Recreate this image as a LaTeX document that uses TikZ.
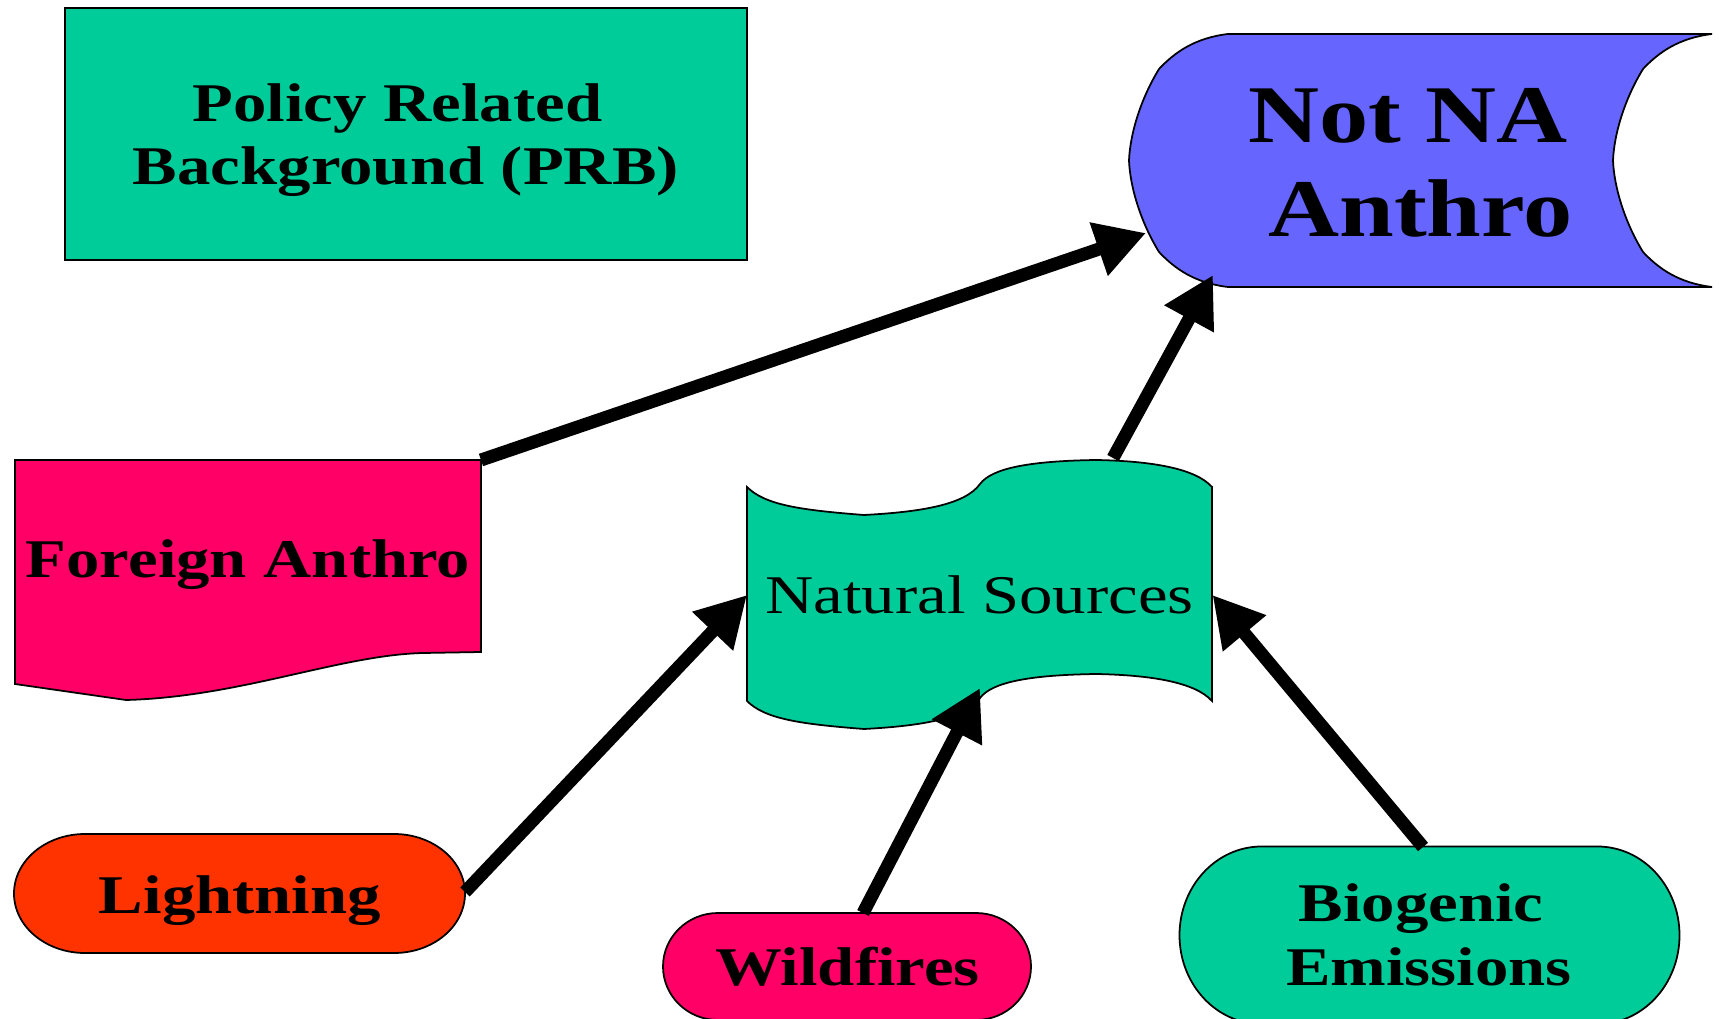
\documentclass[tikz,border=0pt]{standalone}
\usepackage{fontspec}
\setmainfont{Liberation Serif}[FakeStretch=1.2]
\newfontfamily\lblfont{Liberation Serif}[FakeStretch=1.225]
\usetikzlibrary{arrows.meta}
\definecolor{teal}{HTML}{00CC99}
\definecolor{bluev}{HTML}{6666FF}
\definecolor{pinkv}{HTML}{FF0066}
\definecolor{orangev}{HTML}{FF3300}
\tikzset{
  shapebox/.style={draw=black, line width=0.5pt},
  lbl/.style={anchor=base, inner sep=0pt, font=\lblfont\fontsize{15.5pt}{17.7pt}\selectfont\bfseries},
  lblreg/.style={anchor=base, inner sep=0pt, font=\lblfont\fontsize{15.5pt}{17.7pt}\selectfont},
  biglbl/.style={anchor=base, inner sep=0pt, font=\fontsize{23.3pt}{26.7pt}\selectfont\bfseries},
  arr/.style={line width=0.13cm, -{Triangle[length=0.5cm,width=0.53cm]}}
}
\begin{document}
\begin{tikzpicture}[x=0.01cm,y=-0.01cm]
\useasboundingbox (0,0) rectangle (1719,1019);
\clip (0,0) rectangle (1719,1019);
\fill[white] (0,0) rectangle (1719,1019);

% PRB box
\path[shapebox, fill=teal] (65,8) rectangle (747,260);
\node[lbl] (prb1) at (397.5,121.7) {Policy Related};
\node[lbl] (prb2) at (406,185) {Background (PRB)};

% Not NA Anthro
\path[shapebox, fill=bluev] (1228,34) -- (1712,34)
  .. controls (1679,38) and (1659,52) .. (1643,69)
  .. controls (1624,100) and (1614,135) .. (1613,160.5)
  .. controls (1614,186) and (1624,221) .. (1643,252)
  .. controls (1659,269) and (1679,283) .. (1712,287)
  -- (1228,287)
  .. controls (1195,283) and (1175,269) .. (1159,252)
  .. controls (1140,221) and (1130,186) .. (1129,160.5)
  .. controls (1130,135) and (1140,100) .. (1159,69)
  .. controls (1175,52) and (1195,38) .. (1228,34) -- cycle;
\node[biglbl] (nn1) at (1408,142.7) {Not NA};
\node[biglbl] (nn2) at (1420.5,236.7) {Anthro};

% Foreign Anthro
\path[shapebox, fill=pinkv] (15,460) -- (481,460) -- (481,652) -- (423,653)
  .. controls (340,655) and (240,697) .. (126,700) -- (15,684) -- cycle;
\node[lbl] (fa) at (248,577.3) {Foreign Anthro};

% Natural Sources
\path[shapebox, fill=teal] (747,487)
  .. controls (765,505) and (800,510) .. (864,515)
  .. controls (920,512) and (965,505) .. (980,484)
  .. controls (992,468) and (1030,461) .. (1096,460)
  .. controls (1150,461) and (1195,468) .. (1212,487)
  -- (1212,701)
  .. controls (1195,682) and (1150,675) .. (1096,674)
  .. controls (1030,675) and (992,682) .. (980,698)
  .. controls (965,719) and (920,726) .. (864,729)
  .. controls (800,724) and (765,719) .. (747,701) -- cycle;
\node[lblreg] (ns) at (979.5,613.5) {Natural Sources};

% Lightning
\path[shapebox, fill=orangev] (85,834) -- (394,834)
  arc[start angle=-90, end angle=90, x radius=71, y radius=59.5]
  -- (85,953)
  arc[start angle=90, end angle=270, x radius=71, y radius=59.5] -- cycle;
\node[lbl] (li) at (240,913.3) {Lightning};

% Wildfires
\path[shapebox, fill=pinkv] (718,913) -- (976,913)
  arc[start angle=-90, end angle=90, x radius=55, y radius=53.5]
  -- (718,1020)
  arc[start angle=90, end angle=270, x radius=55, y radius=53.5] -- cycle;
\node[lbl] (wf) at (847.5,985) {Wildfires};

% Biogenic Emissions
\path[shapebox, fill=teal] (1261.5,846.5) -- (1597.5,846.5)
  arc[start angle=-90, end angle=90, x radius=82, y radius=88.75]
  -- (1261.5,1024)
  arc[start angle=90, end angle=270, x radius=82, y radius=88.75] -- cycle;
\node[lbl] (bg1) at (1421,921.7) {Biogenic};
\node[lbl] (bg2) at (1429,985) {Emissions};

% connector end points
\coordinate (faout) at (481,460);
\coordinate (nnina) at (1146,233);
\coordinate (nsout) at (1113,458);
\coordinate (nninb) at (1213,275);
\coordinate (liout) at (465,892);
\coordinate (nsinl) at (747,595);
\coordinate (wfout) at (863,913);
\coordinate (nsinb) at (980,688);
\coordinate (bgout) at (1423,847);
\coordinate (nsinr) at (1212.5,595);

\draw[arr] (faout) -- (nnina);
\draw[arr] (nsout) -- (nninb);
\draw[arr] (liout) -- (nsinl);
\draw[arr] (wfout) -- (nsinb);
\draw[arr] (bgout) -- (nsinr);
\end{tikzpicture}
\end{document}
